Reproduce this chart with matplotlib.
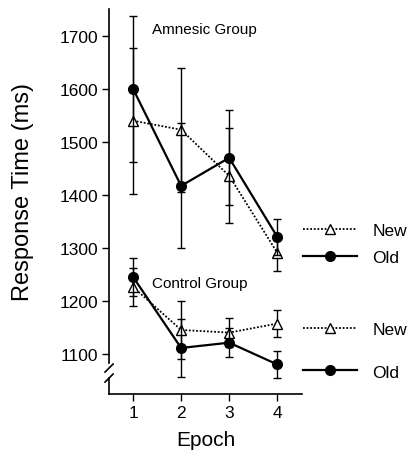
import matplotlib
matplotlib.use('Agg')
import matplotlib.pyplot as plt
from matplotlib.lines import Line2D

plt.rcParams['font.family'] = ['Liberation Sans', 'DejaVu Sans']

# ===================== DATA =====================
epochs = [1, 2, 3, 4]

amn_old = [1600, 1417, 1470, 1321]
amn_old_err = [138, 118, 90, 34]
amn_new = [1540, 1523, 1436, 1291]
amn_new_err = [138, 117, 90, 34]

ctl_old = [1245, 1111, 1121, 1080]
ctl_old_err = [36, 54, 27, 25]
ctl_new = [1226, 1145, 1140, 1157]
ctl_new_err = [36, 55, 27, 25]

yticks = [1100, 1200, 1300, 1400, 1500, 1600, 1700]

# ===================== PLOT =====================
fig = plt.figure(figsize=(4.10, 4.52), dpi=100)
ax = fig.add_axes([0.266, 0.126, 0.471, 0.852])

eb = dict(ecolor='black', elinewidth=1.0, capsize=3, capthick=1.0)
new_style = dict(color='black', linestyle=(0, (1, 1)), linewidth=1.3, marker='^',
                 markersize=6.5, markerfacecolor='white', markeredgecolor='black',
                 markeredgewidth=1.0)
old_style = dict(color='black', linestyle='-', linewidth=1.6, marker='o',
                 markersize=7, markerfacecolor='black', markeredgecolor='black')

# Amnesic group
ax.errorbar(epochs, amn_new, yerr=amn_new_err, zorder=3, **eb, **new_style)
ax.errorbar(epochs, amn_old, yerr=amn_old_err, zorder=4, **eb, **old_style)
# Control group
ax.errorbar(epochs, ctl_new, yerr=ctl_new_err, zorder=3, **eb, **new_style)
ax.errorbar(epochs, ctl_old, yerr=ctl_old_err, zorder=4, **eb, **old_style)

ax.set_xlim(0.5, 4.52)
ax.set_ylim(1024, 1751)
ax.set_xticks(epochs)
ax.set_yticks(yticks)
ax.tick_params(direction='out', length=5, width=1.0, labelsize=12.5, pad=3)

for s in ['top', 'right', 'left']:
    ax.spines[s].set_visible(False)
ax.spines['bottom'].set_linewidth(1.2)

# broken left axis
lk = dict(transform=ax.transAxes, color='black', linewidth=1.2, clip_on=False)
ax.plot([0, 0], [0, 0.0416], **lk)
ax.plot([0, 0], [0.0805, 1], **lk)
ax.plot([-0.021, 0.021], [0.057, 0.078], **lk)
ax.plot([-0.021, 0.021], [0.031, 0.052], **lk)

ax.set_xlabel('Epoch', fontsize=15, labelpad=7)
ax.set_ylabel('Response Time (ms)', fontsize=17)
ax.yaxis.set_label_coords(-0.39, 0.527)

ax.text(1.40, 1713, 'Amnesic Group', fontsize=11, va='center', ha='left')
ax.text(1.40, 1234, 'Control Group', fontsize=11, va='center', ha='left')

# legends
h_new = Line2D([], [], **new_style)
h_old = Line2D([], [], **old_style)
leg_kw = dict(frameon=False, fontsize=12.5, handlelength=3.1, handletextpad=0.9,
              borderpad=0, borderaxespad=0, loc='center left',
              bbox_transform=fig.transFigure)
leg1 = ax.legend([h_new, h_old], ['New', 'Old'], labelspacing=0.7,
                 bbox_to_anchor=(303 / 410, 1 - 245 / 452), **leg_kw)
ax.add_artist(leg1)
leg2 = ax.legend([h_new, h_old], ['New', 'Old'], labelspacing=1.6,
                 bbox_to_anchor=(303 / 410, 1 - 351.5 / 452), **leg_kw)

fig.savefig('out.png', dpi=100)
